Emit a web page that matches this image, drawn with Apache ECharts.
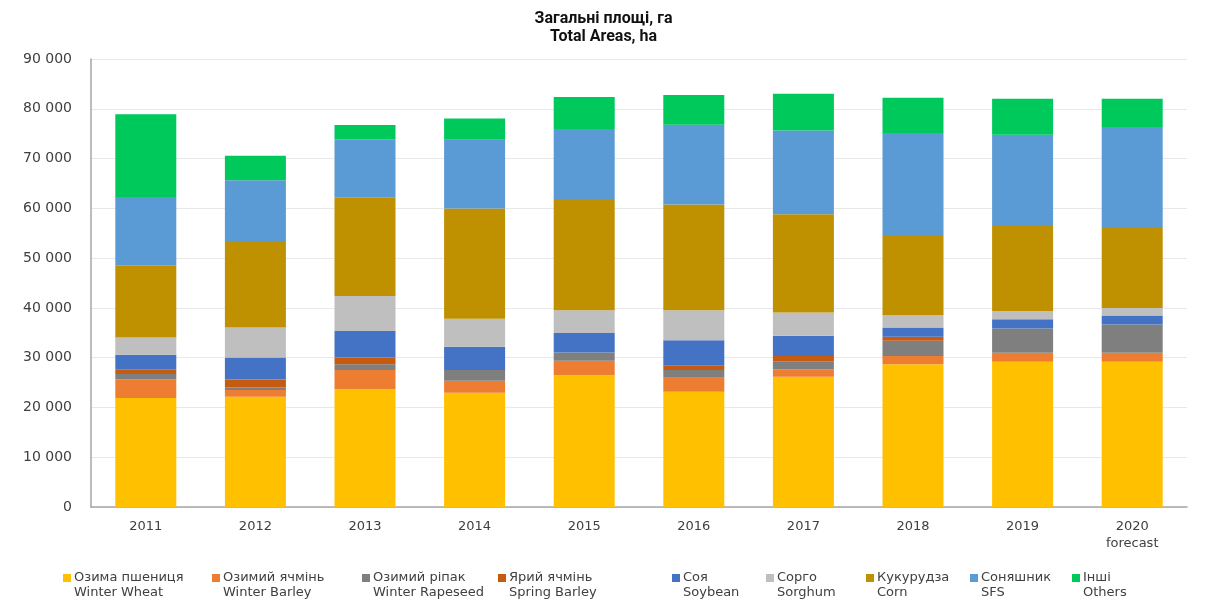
<!DOCTYPE html>
<html>
<head>
<meta charset="utf-8">
<script src="https://cdn.jsdelivr.net/npm/echarts@6/dist/echarts.min.js"></script>
<style>
  html, body { margin: 0; padding: 0; background: #fff; }
  #chart { width: 1207px; height: 606px; }
</style>
</head>
<body>
<div id="chart"></div>
<script>
// Crop areas by year, hectares
const years = ['2011', '2012', '2013', '2014', '2015', '2016', '2017', '2018', '2019', '2020\nforecast'];

const winterWheat    = [21900, 22140, 23680, 22940, 26490, 23140, 26150, 28700, 29160, 29160];
const winterBarley   = [3740, 1340, 3820, 2410, 2880, 2810, 1490, 1610, 1810, 1810];
const winterRapeseed = [1070, 540, 1200, 2150, 1680, 1550, 1660, 3070, 4900, 5700];
const springBarley   = [940, 1600, 1340, 0, 0, 1000, 1010, 800, 0, 0];
const soybean        = [2940, 4420, 5340, 4670, 3930, 5020, 4070, 1880, 1860, 1800];
const sorghum        = [3480, 6020, 7030, 5630, 4560, 6020, 4690, 2470, 1670, 1530];
const corn           = [14380, 17190, 19810, 22150, 22130, 21210, 19730, 15920, 17060, 16260];
const sunflower      = [13850, 12380, 11640, 13850, 14250, 16060, 16860, 20670, 18340, 20070];
const others         = [16620, 4950, 2870, 4270, 6430, 5940, 7370, 7110, 7230, 5700];

const yTicks = { min: 0, max: 90000, interval: 10000 };

const seriesDefs = [
  { ua: 'Озима пшениця', en: 'Winter Wheat',    data: winterWheat,    color: '#FFC000', x: 63 },
  { ua: 'Озимий ячмінь', en: 'Winter Barley',   data: winterBarley,   color: '#ED7D31', x: 212 },
  { ua: 'Озимий ріпак',  en: 'Winter Rapeseed', data: winterRapeseed, color: '#7F7F7F', x: 362 },
  { ua: 'Ярий ячмінь',   en: 'Spring Barley',   data: springBarley,   color: '#C55A11', x: 498 },
  { ua: 'Соя',           en: 'Soybean',         data: soybean,        color: '#4472C4', x: 672 },
  { ua: 'Сорго',         en: 'Sorghum',         data: sorghum,        color: '#BFBFBF', x: 766 },
  { ua: 'Кукурудза',     en: 'Corn',            data: corn,           color: '#BF9000', x: 866 },
  { ua: 'Соняшник',      en: 'SFS',             data: sunflower,      color: '#5B9BD5', x: 970 },
  { ua: 'Інші',          en: 'Others',          data: others,         color: '#00C95C', x: 1072 }
];

const textColor = '#404040';
const font = 'DejaVu Sans';

// Square marker sitting at the first line of a two-line legend label
const legendIcon = 'path://M0,0H8V8H0Z M0,22';

const chart = echarts.init(document.getElementById('chart'), null, { renderer: 'canvas' });

chart.setOption({
  animation: false,
  backgroundColor: '#ffffff',
  title: {
    text: 'Загальні площі, га\nTotal Areas, ha',
    left: 'center',
    top: 5,
    textStyle: {
      fontFamily: 'Roboto',
      fontStyle: 'normal',
      fontWeight: 'bold',
      fontSize: 16,
      lineHeight: 18,
      color: '#111111'
    }
  },
  legend: seriesDefs.map(s => ({
    data: [s.ua],
    left: s.x,
    top: 570,
    padding: 0,
    itemWidth: 8,
    itemHeight: 22,
    icon: legendIcon,
    selectedMode: false,
    formatter: () => s.ua + '\n' + s.en,
    textStyle: { fontFamily: font, fontSize: 13, lineHeight: 15, color: textColor, padding: [0, 0, 0, -2] }
  })),
  grid: { left: 91, right: 20, top: 59, bottom: 99, containLabel: false },
  xAxis: {
    type: 'category',
    data: years,
    axisLine: { show: true, lineStyle: { color: '#A6A6A6', width: 1.5 } },
    axisTick: { show: false },
    axisLabel: { fontFamily: font, fontSize: 13, lineHeight: 17, color: textColor, margin: 11 }
  },
  yAxis: {
    type: 'value',
    min: yTicks.min,
    max: yTicks.max,
    interval: yTicks.interval,
    axisLine: { show: true, lineStyle: { color: '#A6A6A6', width: 1.5 } },
    axisTick: { show: false },
    splitLine: { lineStyle: { color: '#E8E8E8', width: 1 } },
    axisLabel: {
      fontFamily: font,
      fontSize: 14,
      color: textColor,
      margin: 19,
      formatter: v => String(v).replace(/\B(?=(\d{3})+(?!\d))/g, ' ')
    }
  },
  series: seriesDefs.map(s => ({
    name: s.ua,
    type: 'bar',
    stack: 'total',
    barWidth: 61,
    data: s.data,
    itemStyle: { color: s.color },
    emphasis: { disabled: true }
  }))
});
</script>
</body>
</html>
